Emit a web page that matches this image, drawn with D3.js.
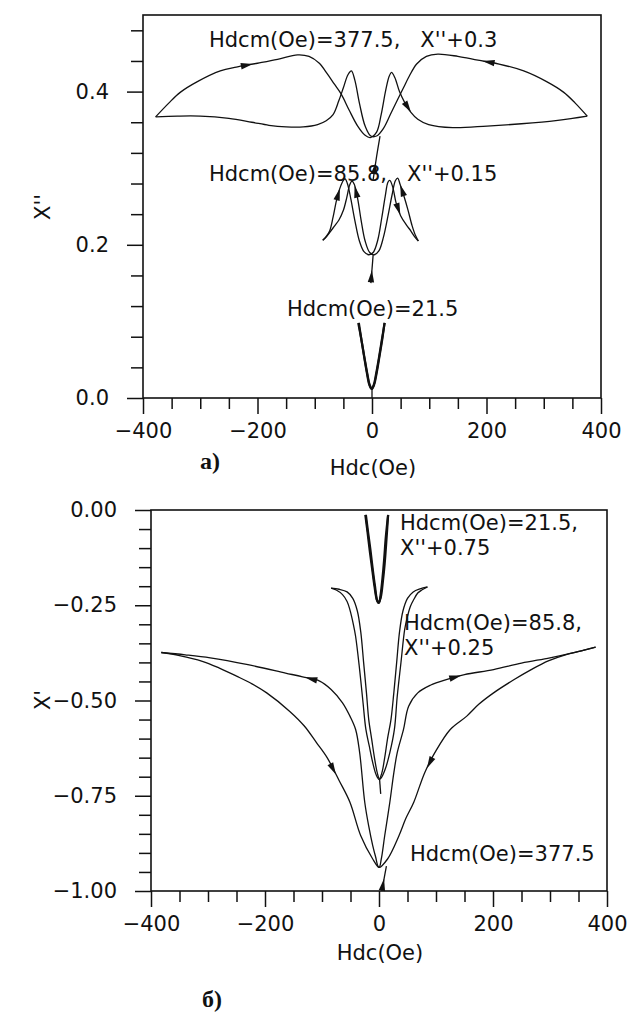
<!DOCTYPE html>
<html>
<head>
<meta charset="utf-8">
<script src="https://cdn.jsdelivr.net/npm/d3@7"></script>
<style>
body { margin:0; background:#fff; }
svg { font-family:"DejaVu Sans", sans-serif; }
.frame { fill:none; stroke:#111; stroke-width:1.6; }
.curve { fill:none; stroke:#111; stroke-width:1.3; }
.thick { fill:none; stroke:#111; stroke-width:2.2; }
.tick line { stroke:#111; stroke-width:1.5; }
.tick text { font-family:"DejaVu Sans", sans-serif; font-size:21px; fill:#111; }
.note { font-size:21px; fill:#111; white-space:pre; }
.panel-tag { font-family:"Liberation Serif", serif; font-weight:bold; font-size:24px; fill:#111; }
</style>
</head>
<body>
<svg id="chart" width="631" height="1014"></svg>
<script>
var width = 631,
    height = 1014;

// shared field axis, Hdc(Oe)
var xMajor = [-400, -200, 0, 200, 400];
var xMinor = [-350, -300, -250, -150, -100, -50, 50, 100, 150, 250, 300, 350];

// panel a) X''
var aYMajor = [0, 0.2, 0.4];
var aYMinor = [0.04, 0.08, 0.12, 0.16, 0.24, 0.28, 0.32, 0.36, 0.44, 0.48];

// Hdcm = 377.5, X''+0.3
var a377Inc = [[-378,0.367],[-355,0.385],[-335,0.399],[-305,0.413],[-265,0.427],[-237,0.432],[-200,0.437],[-165,0.442],[-130,0.448],[-110,0.446],[-92,0.437],[-78,0.423],[-66,0.41],[-54,0.397],[-40,0.376],[-25,0.355],[-12,0.343],[-3,0.34],[8,0.347],[16,0.37],[24,0.402],[30,0.42],[34,0.425],[40,0.418],[48,0.4],[57,0.386],[68,0.373],[80,0.364],[99,0.357],[141,0.353],[201,0.355],[261,0.358],[321,0.362],[350,0.365],[376,0.368]];
var a377Dec = [[376,0.368],[355,0.385],[335,0.399],[305,0.413],[265,0.427],[222,0.436],[185,0.441],[150,0.446],[115,0.449],[95,0.446],[78,0.436],[65,0.42],[55,0.405],[45,0.39],[32,0.37],[20,0.352],[8,0.342],[-2,0.342],[-12,0.355],[-22,0.385],[-30,0.415],[-36,0.427],[-42,0.422],[-50,0.405],[-58,0.388],[-68,0.37],[-80,0.362],[-95,0.357],[-120,0.354],[-150,0.354],[-180,0.356],[-210,0.36],[-250,0.365],[-300,0.368],[-340,0.368],[-378,0.367]];
var a377Init = [[2,0.285],[8,0.315],[14,0.342]];

// Hdcm = 85.8, X''+0.15
var a858Inc = [[-86,0.206],[-80,0.211],[-74,0.218],[-68,0.236],[-62,0.258],[-56,0.274],[-50,0.284],[-47,0.286],[-43,0.28],[-37,0.26],[-30,0.232],[-22,0.205],[-14,0.191],[-6,0.187],[2,0.19],[10,0.206],[17,0.235],[23,0.263],[28,0.282],[31,0.284],[36,0.276],[42,0.255],[50,0.238],[60,0.226],[68,0.218],[75,0.21],[81,0.205]];
var a858Dec = [[81,0.205],[76,0.212],[70,0.225],[63,0.245],[56,0.263],[49,0.279],[45,0.287],[41,0.284],[35,0.265],[28,0.238],[20,0.21],[12,0.192],[4,0.187],[-4,0.19],[-12,0.205],[-19,0.232],[-25,0.26],[-31,0.279],[-35,0.283],[-39,0.278],[-44,0.262],[-50,0.245],[-58,0.232],[-66,0.224],[-74,0.216],[-80,0.21],[-86,0.206]];
var a858Init = [[-2,0.15],[0,0.168],[2,0.187]];

// Hdcm = 21.5
var a215Inc = [[-23,0.098],[-18,0.074],[-13,0.052],[-8,0.031],[-4,0.017],[0,0.012],[4,0.018],[8,0.032],[13,0.054],[18,0.077],[22,0.098]];
var a215Dec = [[22,0.098],[17,0.075],[12,0.052],[7,0.031],[3,0.017],[-1,0.012],[-5,0.018],[-9,0.033],[-14,0.055],[-19,0.078],[-24,0.098]];
var a215Init = [[0,0],[0,0.012]];

// panel b) X'
var bYMajor = [0, -0.25, -0.5, -0.75, -1];
var bYMinor = [-0.05, -0.1, -0.15, -0.2, -0.3, -0.35, -0.4, -0.45, -0.55, -0.6, -0.65, -0.7, -0.8, -0.85, -0.9, -0.95];

// Hdcm = 377.5
var b377Inc = [[-382,-0.374],[-350,-0.382],[-310,-0.397],[-280,-0.415],[-250,-0.436],[-222,-0.457],[-197,-0.48],[-157,-0.528],[-131,-0.567],[-110,-0.61],[-91,-0.65],[-70,-0.71],[-51,-0.767],[-32,-0.855],[-11,-0.916],[0,-0.938],[4,-0.916],[10,-0.855],[19,-0.767],[26,-0.69],[32,-0.637],[43,-0.576],[52,-0.515],[68,-0.48],[90,-0.46],[118,-0.445],[150,-0.432],[201,-0.419],[250,-0.402],[300,-0.388],[340,-0.375],[380,-0.36]];
var b377Dec = [[380,-0.36],[355,-0.37],[327,-0.38],[297,-0.396],[267,-0.419],[235,-0.447],[201,-0.48],[175,-0.51],[154,-0.541],[125,-0.576],[98,-0.637],[80,-0.69],[61,-0.767],[47,-0.81],[35,-0.855],[15,-0.916],[0,-0.938],[-6,-0.91],[-11,-0.881],[-18,-0.83],[-25,-0.767],[-34,-0.636],[-41,-0.576],[-51,-0.541],[-64,-0.506],[-84,-0.471],[-104,-0.449],[-134,-0.438],[-164,-0.428],[-230,-0.406],[-296,-0.388],[-340,-0.38],[-382,-0.374]];
var b377Init = [[5,-1.0],[9,-0.967],[13,-0.935]];

// Hdcm = 85.8, X''+0.25
var b858Inc = [[-84,-0.205],[-75,-0.21],[-64,-0.222],[-56,-0.24],[-51,-0.262],[-45,-0.3],[-41,-0.332],[-34,-0.419],[-28,-0.506],[-23,-0.576],[-17,-0.62],[-11,-0.663],[-5,-0.695],[0,-0.707],[5,-0.69],[10,-0.65],[15,-0.6],[21,-0.55],[26,-0.48],[31,-0.4],[36,-0.32],[42,-0.265],[50,-0.232],[60,-0.215],[72,-0.207],[85,-0.202]];
var b858Dec = [[85,-0.202],[75,-0.21],[68,-0.218],[61,-0.235],[55,-0.253],[49,-0.285],[45,-0.314],[38.5,-0.401],[32,-0.489],[27,-0.576],[19,-0.637],[11,-0.68],[4,-0.703],[1,-0.707],[-3,-0.69],[-8,-0.65],[-13,-0.6],[-18,-0.55],[-22,-0.48],[-27,-0.4],[-32,-0.32],[-38,-0.265],[-46,-0.232],[-56,-0.215],[-70,-0.208],[-84,-0.205]];
var b858Init = [[3,-0.745],[1,-0.707]];

// Hdcm = 21.5, X''+0.75
var b215Inc = [[-24,-0.013],[-20,-0.06],[-16,-0.11],[-12,-0.155],[-8,-0.2],[-4,-0.235],[-1,-0.244],[3,-0.23],[7,-0.185],[10,-0.14],[13,-0.08],[16,-0.013]];
var b215Dec = [[16,-0.013],[12,-0.07],[9,-0.13],[6,-0.18],[3,-0.22],[0,-0.243],[-3,-0.238],[-7,-0.2],[-11,-0.155],[-15,-0.105],[-19,-0.06],[-23,-0.013]];

var svg = d3.select("#chart");

function panel(box, yDomain, yMajor, yMinor, yFmt) {
  var g = svg.append("g");
  var x = d3.scaleLinear().domain([-400, 400]).range([box.left, box.right]);
  var y = d3.scaleLinear().domain(yDomain).range([box.bottom, box.top]);

  g.append("g").attr("transform", "translate(0," + box.bottom + ")")
    .call(d3.axisBottom(x).tickValues(xMinor).tickSize(11).tickFormat(""));
  g.append("g").attr("transform", "translate(0," + box.bottom + ")")
    .call(d3.axisBottom(x).tickValues(xMajor).tickSize(16).tickPadding(9).tickFormat(d3.format("d")));
  g.append("g").attr("transform", "translate(" + box.left + ",0)")
    .call(d3.axisLeft(y).tickValues(yMinor).tickSize(12).tickFormat(""));
  g.append("g").attr("transform", "translate(" + box.left + ",0)")
    .call(d3.axisLeft(y).tickValues(yMajor).tickSize(16).tickPadding(18).tickFormat(d3.format(yFmt)));
  g.selectAll(".domain").remove();

  g.append("rect").attr("class", "frame")
    .attr("x", box.left).attr("y", box.top)
    .attr("width", box.right - box.left).attr("height", box.bottom - box.top);

  return {g: g, x: x, y: y};
}

function curves(p, list, cls) {
  var line = d3.line()
    .x(function(d) { return p.x(d[0]); })
    .y(function(d) { return p.y(d[1]); })
    .curve(d3.curveCatmullRom.alpha(0.5));
  list.forEach(function(pts) {
    p.g.append("path").attr("class", cls).attr("d", line(pts));
  });
}

// arrowhead sitting on segment i -> i+1 of a branch, pointing along it
function arrows(p, list) {
  list.forEach(function(a) {
    var pts = a[0], i = a[1];
    var x0 = p.x(pts[i][0]), y0 = p.y(pts[i][1]),
        x1 = p.x(pts[i + 1][0]), y1 = p.y(pts[i + 1][1]);
    var ang = Math.atan2(y1 - y0, x1 - x0) * 180 / Math.PI;
    p.g.append("path")
      .attr("d", "M6,0L-6,-3.2L-6,3.2Z")
      .attr("fill", "#111")
      .attr("transform", "translate(" + (x0 + x1) / 2 + "," + (y0 + y1) / 2 + ") rotate(" + ang + ")");
  });
}

function notes(p, list) {
  p.g.selectAll("text.note").data(list).enter()
    .append("text").attr("class", "note")
    .attr("x", function(d) { return d[1]; })
    .attr("y", function(d) { return d[2]; })
    .text(function(d) { return d[0]; });
}

// ---- panel a)
var pa = panel({left:143, right:601, top:15, bottom:398}, [0, 0.5], aYMajor, aYMinor, ".1f");
curves(pa, [a377Inc, a377Dec, a377Init, a858Inc, a858Dec, a858Init, a215Init], "curve");
curves(pa, [a215Inc, a215Dec], "thick");
arrows(pa, [[a377Inc, 5], [a377Inc, 25], [a377Dec, 5], [a377Init, 0],
            [a858Inc, 4], [a858Inc, 21], [a858Dec, 4], [a858Dec, 16], [a858Init, 0]]);
notes(pa, [["Hdcm(Oe)=377.5,   X''+0.3", 209, 47],
           ["Hdcm(Oe)=85.8,   X''+0.15", 209, 181],
           ["Hdcm(Oe)=21.5", 287, 316]]);

pa.g.append("text").attr("class", "note")
  .attr("transform", "translate(50,207) rotate(-90)")
  .attr("text-anchor", "middle").text("X''");
pa.g.append("text").attr("class", "note")
  .attr("x", 373).attr("y", 475).attr("text-anchor", "middle").text("Hdc(Oe)");
pa.g.append("text").attr("class", "panel-tag")
  .attr("x", 200).attr("y", 469).text("a)");

// ---- panel b)
var pb = panel({left:151, right:607, top:510, bottom:891}, [-1, 0], bYMajor, bYMinor, ".2f");
curves(pb, [b377Inc, b377Dec, b377Init, b858Inc, b858Dec, b858Init], "curve");
curves(pb, [b215Inc, b215Dec], "thick");
arrows(pb, [[b377Inc, 10], [b377Inc, 25], [b377Dec, 10], [b377Dec, 26], [b377Init, 0]]);
notes(pb, [["Hdcm(Oe)=21.5,", 400, 530],
           ["X''+0.75", 400, 555],
           ["Hdcm(Oe)=85.8,", 404, 630],
           ["X''+0.25", 404, 655],
           ["Hdcm(Oe)=377.5", 410, 861]]);

pb.g.append("text").attr("class", "note")
  .attr("transform", "translate(50,700) rotate(-90)")
  .attr("text-anchor", "middle").text("X'");
pb.g.append("text").attr("class", "note")
  .attr("x", 380).attr("y", 960).attr("text-anchor", "middle").text("Hdc(Oe)");
pb.g.append("text").attr("class", "panel-tag")
  .attr("x", 202).attr("y", 1007).text("б)");
</script>
</body>
</html>
